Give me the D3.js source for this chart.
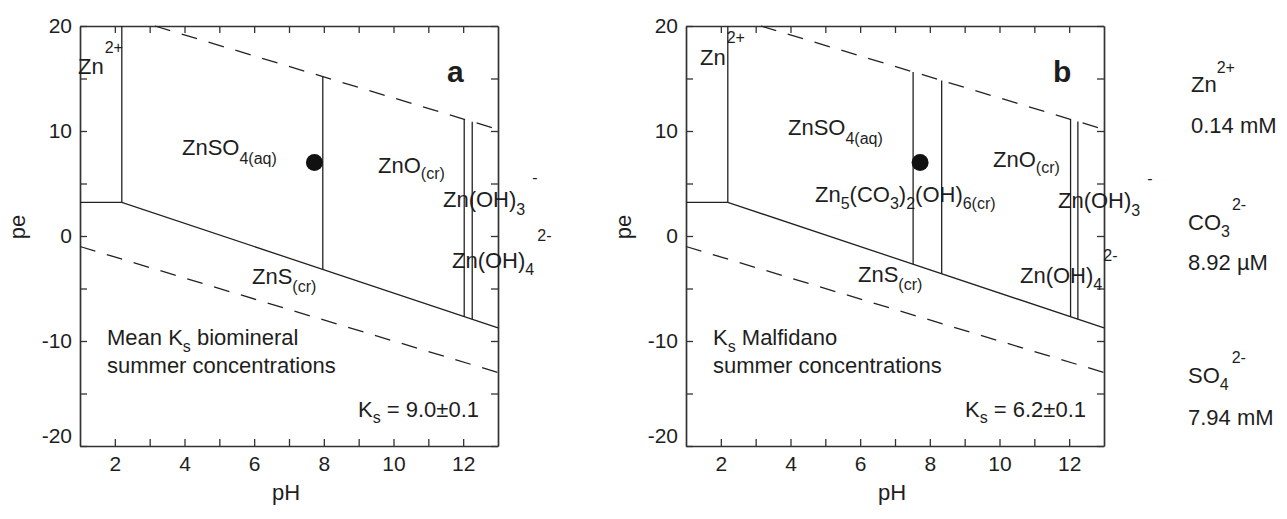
<!DOCTYPE html>
<html>
<head>
<meta charset="utf-8">
<script src="https://cdn.jsdelivr.net/npm/d3@7"></script>
<style>
  html, body { margin: 0; padding: 0; background: #fff; }
  svg text { font-family: "Liberation Sans", Arial, sans-serif; fill: #1e1e1e; }
</style>
</head>
<body>
<svg id="chart" width="1287" height="519"></svg>
<script>
// ---- Data ---------------------------------------------------------------
const phDomain = [1, 13];
const peDomain = [-20, 20];
const phTickValues = [2, 3, 4, 5, 6, 7, 8, 9, 10, 11, 12];
const phTickLabels = [2, 4, 6, 8, 10, 12];
const peTickValues = [-20, -15, -10, -5, 0, 5, 10, 15, 20];
const peTickLabels = [-20, -10, 0, 10, 20];

// Water stability limits (dashed), [pH, pe]
const o2Limit = [[3.15, 20], [13, 10.15]];
const h2Limit = [[1, -1], [13, -13]];

// Zn2+ field and sulphate/sulphide boundary, [pH, pe]
const zn2Limit = [[2.2, 20], [2.2, 3.2]];
const sulfideLimit = [[1, 3.2], [2.2, 3.2], [13, -8.75]];

// Vertical phase boundaries: [pH, upper pe, lower pe]
const phaseLimitsA = [[7.97, 15.18, -3.18], [12.03, 11.12, -7.67], [12.26, 10.89, -7.93]];
const phaseLimitsB = [[7.52, 15.63, -2.68], [8.34, 14.81, -3.59], [12.04, 11.11, -7.68], [12.25, 10.90, -7.92]];

// Measured water sample, [pH, pe]
const sampleA = [7.73, 7.0];
const sampleB = [7.72, 7.0];

const ksValues = ["9.0\u00b10.1", "6.2\u00b10.1"];
const concentrations = ["0.14 mM", "8.92 \u00b5M", "7.94 mM"];

// ---- Layout -------------------------------------------------------------
const svg = d3.select("#chart");
const W = 418, H = 420;
const FONT = 22, SMALL = 16;
const INK = "#222";

const x = d3.scaleLinear().domain(phDomain).range([0, W]);
const y = d3.scaleLinear().domain(peDomain).range([H, 0]);
const line = d3.line().x(d => x(d[0])).y(d => y(d[1]));

// Rich label: parts are [text, kind, dx, shift]; kind = "sub" | "sup" | undefined.
// Every tspan gets an absolute baseline so that the flow never drifts.
function rich(g, px, py, parts, size = FONT, weight = "normal") {
  const t = g.append("text").attr("x", px).attr("y", py)
    .attr("font-size", size).attr("font-weight", weight);
  parts.forEach(p => {
    const [txt, kind, dx, shift] = p;
    const s = t.append("tspan").text(txt);
    if (kind === "sub" || kind === "sup") {
      s.attr("font-size", SMALL).attr("dx", dx || 0)
        .attr("y", py + (shift !== undefined ? shift : (kind === "sub" ? 7 : -20)));
    } else {
      s.attr("y", py);
    }
  });
  return t;
}

function panel(x0, y0, limits, sample, letter, labels) {
  const g = svg.append("g").attr("transform", `translate(${x0},${y0})`);

  // Axes with inward ticks on all four sides
  const bottom = g.append("g").attr("transform", `translate(0,${H})`)
    .call(d3.axisBottom(x).tickValues(phTickValues).tickSize(-7).tickSizeOuter(0)
      .tickPadding(10).tickFormat(d => d));
  const top = g.append("g")
    .call(d3.axisTop(x).tickValues(phTickValues).tickSize(-7).tickSizeOuter(0));
  const left = g.append("g")
    .call(d3.axisLeft(y).tickValues(peTickValues).tickSize(-7).tickSizeOuter(0)
      .tickPadding(8).tickFormat(d => d));
  const right = g.append("g").attr("transform", `translate(${W},0)`)
    .call(d3.axisRight(y).tickValues(peTickValues).tickSize(-7).tickSizeOuter(0));

  // only the major values carry labels
  bottom.selectAll(".tick").filter(d => !phTickLabels.includes(d)).select("text").remove();
  left.selectAll(".tick").filter(d => !peTickLabels.includes(d)).select("text").remove();
  top.selectAll(".tick text").remove();
  right.selectAll(".tick text").remove();

  [bottom, top, left, right].forEach(a => {
    a.select(".domain").attr("stroke", "#333").attr("stroke-width", 1.7);
    a.selectAll(".tick line").attr("stroke", "#333").attr("stroke-width", 1.3);
    a.selectAll(".tick text").attr("font-size", 21).attr("fill", "#1e1e1e")
      .attr("font-family", "Liberation Sans, Arial, sans-serif");
  });
  // keep the lowest pe label clear of the pH labels
  left.selectAll(".tick").filter(d => d === -20).select("text").attr("dy", "-0.15em");

  // Axis titles
  g.append("text").attr("x", W / 2 - 3).attr("y", H + 54).attr("text-anchor", "middle")
    .attr("font-size", FONT).text("pH");
  g.append("text").attr("transform", `translate(-55,${H / 2 - 9}) rotate(-90)`)
    .attr("text-anchor", "middle").attr("font-size", FONT).text("pe");

  // Water stability limits
  [o2Limit, h2Limit].forEach(d => g.append("path").datum(d).attr("d", line)
    .attr("fill", "none").attr("stroke", INK).attr("stroke-width", 1.3)
    .attr("stroke-dasharray", "16,12"));

  // Solid boundaries
  [zn2Limit, sulfideLimit].forEach(d => g.append("path").datum(d).attr("d", line)
    .attr("fill", "none").attr("stroke", INK).attr("stroke-width", 1.3));
  g.selectAll("line.phase").data(limits).join("line").attr("class", "phase")
    .attr("x1", d => x(d[0])).attr("x2", d => x(d[0]))
    .attr("y1", d => y(d[1])).attr("y2", d => y(d[2]))
    .attr("stroke", INK).attr("stroke-width", 1.3);

  // Sample point
  g.append("circle").attr("cx", x(sample[0])).attr("cy", y(sample[1]))
    .attr("r", 8.5).attr("fill", "#111");

  // Panel letter
  rich(g, 367, 56, [[letter]], 30, "bold");

  labels(g);
}

// Panel a: mean Ks of the biomineral
panel(80, 26, phaseLimitsA, sampleA, "a", g => {
  rich(g, -2, 48, [["Zn"], ["2+", "sup", 1, -21]]);
  rich(g, 102, 129, [["ZnSO"], ["4(aq)", "sub", 0, 9]]);
  rich(g, 298, 147, [["ZnO"], ["(cr)", "sub", 0, 6]]);
  rich(g, 363, 181, [["Zn(OH)"], ["3", "sub", 0, 8], ["-", "sup", 7, -24]]);
  rich(g, 372, 242, [["Zn(OH)"], ["4", "sub", 0, 7], ["2-", "sup", 3, -27]]);
  rich(g, 172, 258, [["ZnS"], ["(cr)", "sub", 0, 8]]);
  rich(g, 27, 319, [["Mean K"], ["s", "sub", 0, 7], [" biomineral"]]);
  rich(g, 27, 347, [["summer concentrations"]]);
  rich(g, 278, 391, [["K"], ["s", "sub", 0, 6], [" = " + ksValues[0]]]);
});

// Panel b: Ks of Malfidano
panel(686, 26, phaseLimitsB, sampleB, "b", g => {
  rich(g, 14, 39, [["Zn"], ["2+", "sup", 1, -22]]);
  rich(g, 102, 109, [["ZnSO"], ["4(aq)", "sub", 0, 9]]);
  rich(g, 307, 141, [["ZnO"], ["(cr)", "sub", 0, 6]]);
  rich(g, 129, 176, [["Zn"], ["5", "sub", 0, 7], ["(CO"], ["3", "sub", 0, 7], [")"],
    ["2", "sub", 0, 7], ["(OH)"], ["6(cr)", "sub", 0, 7]]);
  rich(g, 372, 182, [["Zn(OH)"], ["3", "sub", 0, 8], ["-", "sup", 7, -24]]);
  rich(g, 172, 256, [["ZnS"], ["(cr)", "sub", 0, 8]]);
  rich(g, 334, 257, [["Zn(OH)"], ["4", "sub", 0, 7], ["2-", "sup", 1, -22]]);
  rich(g, 27, 319, [["K"], ["s", "sub", 0, 7], [" Malfidano"]]);
  rich(g, 27, 347, [["summer concentrations"]]);
  rich(g, 279, 391, [["K"], ["s", "sub", 0, 6], [" = " + ksValues[1]]]);
});

// Dissolved concentrations used for both diagrams
const legend = svg.append("g");
rich(legend, 1191, 92, [["Zn"], ["2+", "sup", 0, -19]]);
rich(legend, 1191, 133, [[concentrations[0]]]);
rich(legend, 1188, 230, [["CO"], ["3", "sub", 0, 7], ["2-", "sup", 2, -20]]);
rich(legend, 1188, 270, [[concentrations[1]]]);
rich(legend, 1188, 383, [["SO"], ["4", "sub", 0, 7], ["2-", "sup", 3, -20]]);
rich(legend, 1188, 425, [[concentrations[2]]]);
</script>
</body>
</html>
